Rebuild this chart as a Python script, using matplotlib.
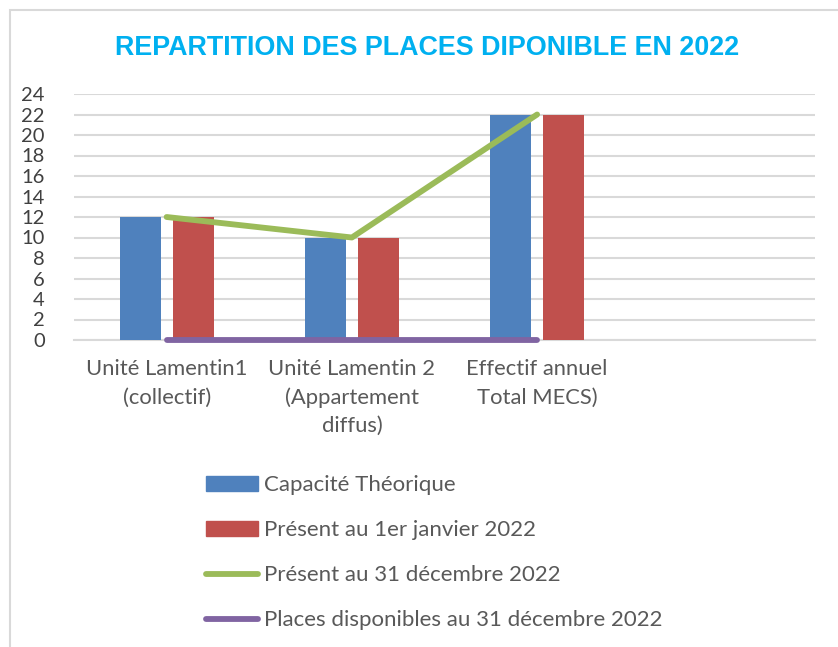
import matplotlib
matplotlib.use("Agg")
import matplotlib.pyplot as plt
from matplotlib.patches import Patch, Rectangle
from matplotlib.lines import Line2D
import numpy as np

# data
categories = ["Unité Lamentin1\n(collectif)",
              "Unité Lamentin 2\n(Appartement\ndiffus)",
              "Effectif annuel\nTotal MECS)",
              ""]
capacite = [12, 10, 22]
present_janv = [12, 10, 22]
present_dec = [12, 10, 22]
places_dispo = [0, 0, 0]
yticks = list(range(0, 25, 2))

series_names = ["Capacité Théorique", "Présent au 1er janvier 2022",
                "Présent au 31 décembre 2022",
                "Places disponibles au 31 décembre 2022"]

BLUE = "#4F81BD"
RED = "#C0504D"
GREEN = "#9BBB59"
PURPLE = "#8064A2"
GREY = "#595959"
GRID = "#D9D9D9"

plt.rcParams["font.family"] = ["Lato", "DejaVu Sans"]

fig = plt.figure(figsize=(8.38, 6.47), dpi=100)
# chart border
fig.patches.append(Rectangle((10 / 838, -0.1), 1.1, 1 - 10 / 647 + 0.1,
                             transform=fig.transFigure, fill=False,
                             edgecolor=GRID, linewidth=1.5))

ax = fig.add_axes([74 / 838, 1 - 340 / 647, 741 / 838, 246 / 647])

x = np.arange(len(capacite))
w = 0.222
off = 0.143
ax.bar(x - off, capacite, w, color=BLUE, zorder=3)
ax.bar(x + off, present_janv, w, color=RED, zorder=3)
ax.plot(x, present_dec, color=GREEN, lw=4.2, solid_capstyle="round", zorder=4, clip_on=False)
ax.plot(x, places_dispo, color=PURPLE, lw=4.2, solid_capstyle="round", zorder=4, clip_on=False)

ax.set_xlim(-0.5, len(categories) - 0.5)
ax.set_ylim(0, 24)
ax.set_yticks(yticks)
ax.set_xticks(range(len(categories)))
ax.set_xticklabels(categories, linespacing=1.5)
ax.tick_params(axis="both", length=0, colors=GREY)
ax.tick_params(axis="x", pad=14, labelsize=15.8)
ax.tick_params(axis="y", pad=21, labelsize=14.5)
for lab in ax.get_yticklabels():
    lab.set_color("#404040")
ax.grid(axis="y", color=GRID, lw=1.5, zorder=0)
for s in ["top", "right", "left"]:
    ax.spines[s].set_visible(False)
ax.spines["bottom"].set_color(GRID)
ax.spines["bottom"].set_linewidth(1.5)

fig.text(427 / 838, 1 - 48 / 647, "REPARTITION DES PLACES DIPONIBLE EN 2022",
         ha="center", va="center", color="#00B0F0", fontsize=19.4, fontweight="bold",
         family=["Liberation Sans Narrow", "Liberation Sans", "DejaVu Sans"])

handles = [Patch(color=BLUE), Patch(color=RED),
           Line2D([], [], color=GREEN, lw=4.2, solid_capstyle="round"),
           Line2D([], [], color=PURPLE, lw=4.2, solid_capstyle="round")]
leg = fig.legend(handles, series_names, loc="upper left",
                 bbox_to_anchor=(197 / 838, 1 - 466 / 647), frameon=False,
                 fontsize=16, handlelength=2.35, handletextpad=0.25,
                 labelspacing=1.13, borderaxespad=0, handleheight=0.65)
for t in leg.get_texts():
    t.set_color(GREY)

fig.savefig("out.png", dpi=100)
